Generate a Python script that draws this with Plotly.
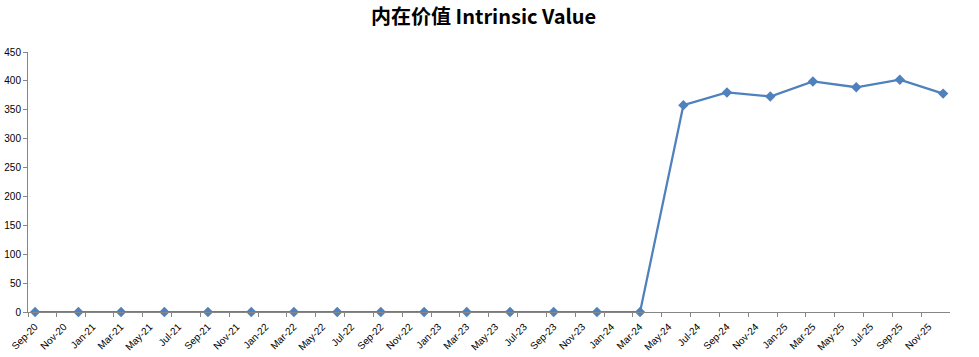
import plotly.graph_objects as go

months = ["2020-09", "2020-12", "2021-03", "2021-06", "2021-09", "2021-12",
          "2022-03", "2022-06", "2022-09", "2022-12", "2023-03", "2023-06",
          "2023-09", "2023-12", "2024-03", "2024-06", "2024-09", "2024-12",
          "2025-03", "2025-06", "2025-09", "2025-12"]
values = [0, 0, 0, 0, 0, 0, 0, 0, 0, 0, 0, 0, 0, 0, 0,
          358, 380, 373, 399, 389, 402, 378]

title_text = "内在价值 Intrinsic Value"
blue = "#4F81BD"
axis_grey = "#868686"

fig = go.Figure()
fig.add_trace(go.Scatter(
    x=months, y=values, mode="lines+markers",
    xperiod="M1", xperiodalignment="middle",
    line=dict(color=blue, width=2.25),
    marker=dict(symbol="diamond", size=8, color=blue),
    cliponaxis=False,
))

fig.update_layout(
    width=979, height=357,
    margin=dict(l=28, r=29, t=52, b=45),
    paper_bgcolor="white", plot_bgcolor="white",
    showlegend=False,
    title=dict(text="<b>" + title_text + "</b>", x=0.494, xanchor="center",
               y=0.952, yanchor="middle",
               font=dict(family="Noto Sans CJK SC, Open Sans", size=20, color="black")),
    font=dict(family="Liberation Sans, Arial", size=10, color="black"),
)
fig.update_xaxes(
    type="date", range=["2020-09-01", "2025-12-31"],
    tick0="2020-09-01", dtick="M2", tickformat="%b-%y",
    tickangle=-45, ticks="outside", ticklen=4, tickcolor=axis_grey,
    ticklabelshift=7,
    showline=True, linecolor=axis_grey, linewidth=1,
    showgrid=False, zeroline=False, automargin=False,
    tickfont=dict(size=10),
)
fig.update_yaxes(
    range=[0, 450], dtick=50, ticks="outside", ticklen=4, tickcolor=axis_grey,
    showline=True, linecolor=axis_grey, linewidth=1,
    showgrid=False, zeroline=False, automargin=False, tickfont=dict(size=10),
)

fig.write_html("out.html", config={"displayModeBar": False},
               post_script="document.body.style.margin='0';document.body.style.overflow='hidden';")
